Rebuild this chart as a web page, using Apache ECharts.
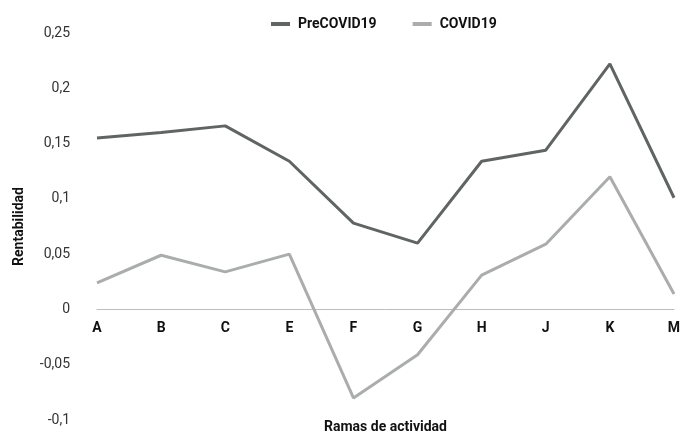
<!DOCTYPE html>
<html>
<head>
<meta charset="utf-8">
<script src="https://cdn.jsdelivr.net/npm/echarts@6/dist/echarts.min.js"></script>
<style>
  html, body { margin: 0; padding: 0; background: #fff; }
  #chart { width: 681px; height: 434px; }
</style>
</head>
<body>
<div id="chart"></div>
<script>
const categories = ['A', 'B', 'C', 'E', 'F', 'G', 'H', 'J', 'K', 'M'];
const preCovid = [0.155, 0.160, 0.166, 0.134, 0.078, 0.060, 0.134, 0.144, 0.222, 0.101];
const covid = [0.024, 0.049, 0.034, 0.050, -0.080, -0.041, 0.031, 0.059, 0.120, 0.014];

const fmt = v => String(+v.toFixed(2)).replace('.', ',');

let myChart = echarts.init(document.getElementById('chart'));
myChart.setOption({
    animation: false,
    textStyle: { fontFamily: 'Roboto' },
    legend: {
        top: 12,
        left: 266,
        itemGap: 36,
        itemWidth: 19,
        itemHeight: 4,
        icon: 'rect',
        textStyle: { fontWeight: 'bold', fontSize: 14, color: '#111', padding: [0, 0, 0, 3] },
        data: ['PreCOVID19', 'COVID19']
    },
    grid: { left: 97, right: 7, top: 33, bottom: 14, containLabel: false, outerBoundsMode: 'none' },
    xAxis: {
        type: 'category',
        data: categories,
        boundaryGap: false,
        axisLine: { onZero: true, lineStyle: { color: '#bdbdbd', width: 1 } },
        axisTick: { show: false },
        // labels sit at the grid bottom in v6, pull them up under the zero line
        axisLabel: { margin: -99, fontWeight: 'bold', fontSize: 14, color: '#111' },
        name: 'Ramas de actividad',
        nameLocation: 'middle',
        nameGap: 0,
        nameTextStyle: { fontWeight: 'bold', fontSize: 14, color: '#111' }
    },
    yAxis: {
        type: 'value',
        min: -0.1,
        max: 0.25,
        interval: 0.05,
        splitLine: { show: false },
        axisLine: { show: false },
        axisTick: { show: false },
        axisLabel: { margin: 27, fontSize: 14, color: '#333', formatter: fmt },
        name: 'Rentabilidad',
        nameLocation: 'middle',
        nameGap: 71,
        nameTextStyle: { fontWeight: 'bold', fontSize: 14, color: '#111' }
    },
    series: [
        {
            name: 'PreCOVID19',
            type: 'line',
            data: preCovid,
            symbol: 'none',
            lineStyle: { color: '#606462', width: 3 },
            itemStyle: { color: '#606462' }
        },
        {
            name: 'COVID19',
            type: 'line',
            data: covid,
            symbol: 'none',
            lineStyle: { color: '#aaadac', width: 3 },
            itemStyle: { color: '#aaadac' }
        }
    ]
});
</script>
</body>
</html>
